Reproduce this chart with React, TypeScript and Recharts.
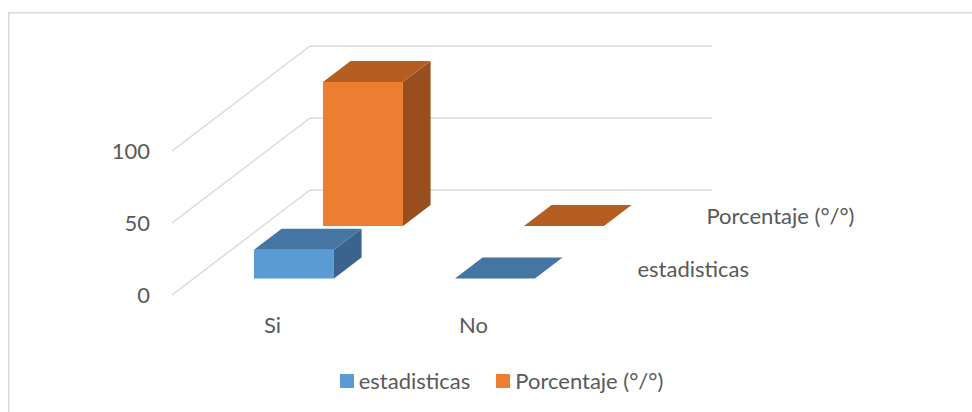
import React from 'react';
import { BarChart, Bar, XAxis, YAxis, CartesianGrid, Legend } from 'recharts';

// Categories and series values
const categories = ['Si', 'No'];
const estadisticas = [20, 0];
const porcentaje = [100, 0];
const seriesNames = ['estadisticas', 'Porcentaje (°/°)'];
const yTicks = [0, 50, 100];

const data = categories.map((cat, i) => ({
  cat,
  estadisticas: estadisticas[i],
  porcentaje: porcentaje[i],
}));

// Layout of the front plane of the 3D box
const W = 972;
const H = 412;
const PLOT_LEFT = 172;
const PLOT_RIGHT = 574;
const PLOT_TOP = 151;
const PLOT_BOTTOM = 295;
const Y_AXIS_W = 60;
const X_AXIS_H = 30;

// Oblique projection of the depth axis (full depth of the floor)
const DEPTH_X = 138;
const DEPTH_Y = 105;
const BOX_DEPTH = 0.2;
// Row centres along the depth axis, one row per series
const ROW_CENTER = [0.257, 0.757];

const FONT = 'Lato, "Open Sans", sans-serif';
const FONT_SIZE = 22;
const TEXT = '#595959';
const GRID = '#d9d9d9';

const COLORS = [
  { front: '#5B9BD5', top: '#4575A2', side: '#3A648C' },
  { front: '#ED7D31', top: '#B45E22', side: '#984E1D' },
];

function makeBox(row: number) {
  const c = COLORS[row];
  const d0 = ROW_CENTER[row] - BOX_DEPTH / 2;
  return (props: any) => {
    const { x, y, width, height } = props;
    const h = Math.max(0, height || 0);
    const fx = x + DEPTH_X * d0;
    const fy = y - DEPTH_Y * d0;
    const bx = DEPTH_X * BOX_DEPTH;
    const by = DEPTH_Y * BOX_DEPTH;
    const top = `M${fx},${fy} L${fx + bx},${fy - by} L${fx + width + bx},${fy - by} L${fx + width},${fy} Z`;
    const side = `M${fx + width},${fy} L${fx + width + bx},${fy - by} L${fx + width + bx},${fy + h - by} L${fx + width},${fy + h} Z`;
    return (
      <g>
        {h > 0 && <path d={side} fill={c.side} />}
        {h > 0 && <rect x={fx} y={fy} width={width} height={h} fill={c.front} />}
        <path d={top} fill={c.top} />
      </g>
    );
  };
}

// Grid line running along the left wall and across the back wall
const wallLine = (p: any) => {
  const { x1, y1, x2 } = p;
  return (
    <path
      key={p.key}
      d={`M${x1},${y1} L${x1 + DEPTH_X},${y1 - DEPTH_Y} L${x2 + DEPTH_X},${y1 - DEPTH_Y}`}
      fill="none"
      stroke={GRID}
      strokeWidth={1.5}
    />
  );
};

const DepthLabels = () => (
  <g>
    {seriesNames.map((name, i) => (
      <text
        key={name}
        x={PLOT_RIGHT + DEPTH_X * ROW_CENTER[i] + 28}
        y={PLOT_BOTTOM - DEPTH_Y * ROW_CENTER[i]}
        dominantBaseline="central"
        fontFamily={FONT}
        fontSize={FONT_SIZE}
        fill={TEXT}
      >
        {name}
      </text>
    ))}
  </g>
);

const LegendContent = (props: any) => {
  const items = [...(props.payload || [])].sort(
    (a: any, b: any) => seriesNames.indexOf(a.value) - seriesNames.indexOf(b.value)
  );
  return (
    <div
      style={{
        display: 'flex',
        justifyContent: 'center',
        alignItems: 'center',
        paddingLeft: 31,
        fontFamily: FONT,
        fontSize: FONT_SIZE,
        color: TEXT,
        lineHeight: '26px',
      }}
    >
      {items.map((it: any) => (
        <div key={it.value} style={{ display: 'flex', alignItems: 'center', margin: '0 13px' }}>
          <span style={{ width: 14, height: 14, background: it.color, marginRight: 5, display: 'inline-block' }} />
          <span>{it.value}</span>
        </div>
      ))}
    </div>
  );
};

export default function App() {
  return (
    <div style={{ position: 'absolute', left: 0, top: 0, width: W, height: H, overflow: 'hidden', background: '#fff' }}>
      <svg width={W} height={H} style={{ position: 'absolute', left: 0, top: 0 }}>
        <rect x={8.75} y={12.75} width={1200} height={1200} fill="none" stroke={GRID} strokeWidth={1.5} />
      </svg>
      <div style={{ position: 'absolute', left: 0, top: 0 }}>
        <BarChart
          width={W}
          height={H}
          data={data}
          barCategoryGap="30%"
          margin={{
            top: PLOT_TOP,
            right: W - PLOT_RIGHT,
            bottom: H - PLOT_BOTTOM - X_AXIS_H,
            left: PLOT_LEFT - Y_AXIS_W,
          }}
        >
          <CartesianGrid vertical={false} horizontal={wallLine} />
          <XAxis
            xAxisId="front"
            dataKey="cat"
            height={X_AXIS_H}
            axisLine={false}
            tickLine={false}
            tickSize={0}
            tickMargin={22}
            tick={{ fontFamily: FONT, fontSize: FONT_SIZE, fill: TEXT }}
          />
          <XAxis xAxisId="back" dataKey="cat" hide height={0} />
          <YAxis
            width={Y_AXIS_W}
            domain={[0, 100]}
            ticks={yTicks}
            axisLine={false}
            tickLine={false}
            tickSize={0}
            tickMargin={22}
            tick={{ fontFamily: FONT, fontSize: FONT_SIZE, fill: TEXT }}
          />
          <Bar
            xAxisId="back"
            dataKey="porcentaje"
            name={seriesNames[1]}
            fill={COLORS[1].front}
            shape={makeBox(1)}
            isAnimationActive={false}
          />
          <Bar
            xAxisId="front"
            dataKey="estadisticas"
            name={seriesNames[0]}
            fill={COLORS[0].front}
            shape={makeBox(0)}
            isAnimationActive={false}
          />
          <DepthLabels />
          <Legend
            verticalAlign="middle"
            align="center"
            content={LegendContent}
            wrapperStyle={{ position: 'absolute', top: 368, left: 0, width: W }}
          />
        </BarChart>
      </div>
    </div>
  );
}
